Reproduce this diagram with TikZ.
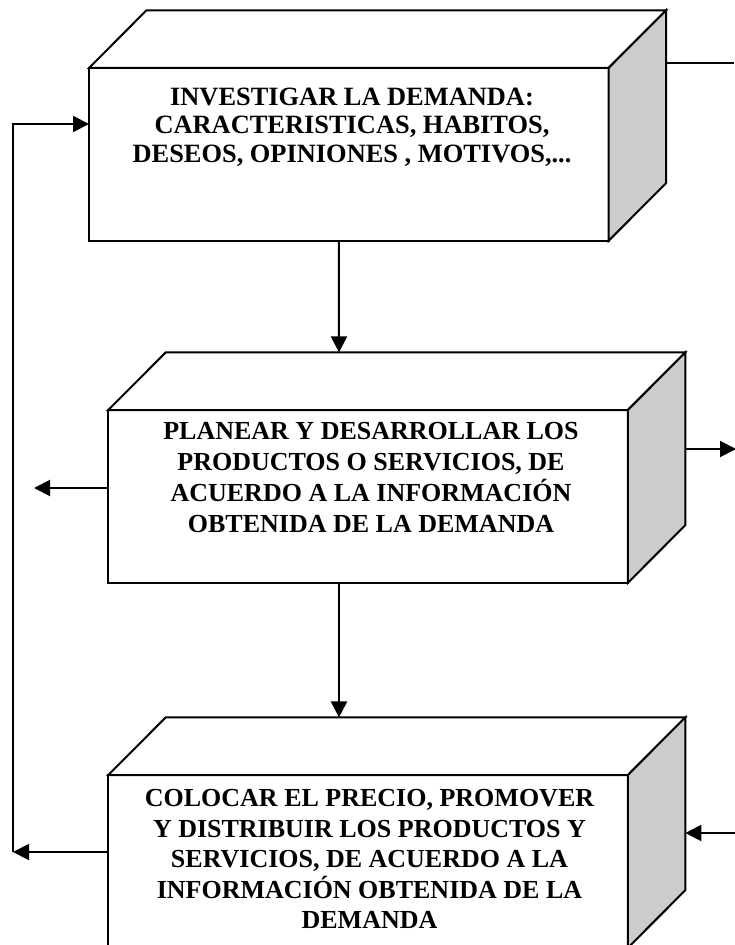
\documentclass[tikz,border=0pt]{standalone}
\usepackage{fontspec}
\setmainfont{Liberation Serif}
\usetikzlibrary{arrows.meta,positioning,calc}
\definecolor{sidegray}{RGB}{204,204,204}

\begin{document}
\begin{tikzpicture}[x=0.5pt,y=-0.5pt,
    frontface/.style={draw,line width=1pt,fill=white,minimum width=259.8pt,minimum height=86.4pt,inner sep=0pt,outer sep=0pt},
    topface/.style={draw,line width=1pt,fill=white},
    sideface/.style={draw,line width=1pt,fill=sidegray},
    boxtext/.style={font=\bfseries\fontsize{13}{15.5}\selectfont,align=center},
    arr/.style={line width=1pt,-{Triangle[length=8pt,width=8pt]}}]
    \useasboundingbox (0,0) rectangle (734,945);

    % Box 1: investigar la demanda
    \node[frontface] (f1) at (348.8,154.4) {};
    \draw[topface] (f1.north west) -- ++(57.5,-57.7) -- ($(f1.north east)+(57.5,-57.7)$) -- (f1.north east) -- cycle;
    \draw[sideface] (f1.north east) -- ++(57.5,-57.7) -- ($(f1.south east)+(57.5,-57.7)$) -- (f1.south east) -- cycle;
    \coordinate (s1) at ($(f1.east)+(57.5,0)$);
    \node[boxtext,font=\bfseries\fontsize{13.2}{14.25}\selectfont] (t1) at (352,127)
        {INVESTIGAR LA DEMANDA:\\CARACTERISTICAS, HABITOS,\\DESEOS, OPINIONES , MOTIVOS,...};

    % Box 2: planear y desarrollar
    \node[frontface] (f2) at (368,496.5) {};
    \draw[topface] (f2.north west) -- ++(57.5,-57.7) -- ($(f2.north east)+(57.5,-57.7)$) -- (f2.north east) -- cycle;
    \draw[sideface] (f2.north east) -- ++(57.5,-57.7) -- ($(f2.south east)+(57.5,-57.7)$) -- (f2.south east) -- cycle;
    \coordinate (s2) at ($(f2.east)+(57.5,0)$);
    \node[boxtext] (t2) at (371,478)
        {PLANEAR Y DESARROLLAR LOS\\PRODUCTOS O SERVICIOS, DE\\ACUERDO A LA INFORMACIÓN\\OBTENIDA DE LA DEMANDA};

    % Box 3: colocar el precio
    \node[frontface] (f3) at (368,861.5) {};
    \draw[topface] (f3.north west) -- ++(57.5,-57.7) -- ($(f3.north east)+(57.5,-57.7)$) -- (f3.north east) -- cycle;
    \draw[sideface] (f3.north east) -- ++(57.5,-57.7) -- ($(f3.south east)+(57.5,-57.7)$) -- (f3.south east) -- cycle;
    \coordinate (s3) at ($(f3.east)+(57.5,0)$);
    \node[boxtext,font=\bfseries\fontsize{13}{15.25}\selectfont] (t3) at (369.5,859)
        {COLOCAR EL PRECIO, PROMOVER\\Y DISTRIBUIR LOS PRODUCTOS Y\\SERVICIOS, DE ACUERDO A LA\\INFORMACIÓN OBTENIDA DE LA\\DEMANDA};

    % Flow down
    \draw[arr] ($(f1.south)+(-10,0)$) -- ($(f2.north)+(-29,-57.7)$);
    \draw[arr] ($(f2.south)+(-29,0)$) -- ($(f3.north)+(-29,-57.7)$);

    % Feedback loop on the left
    \coordinate (c1) at (13,852);
    \coordinate (in1) at ($(f1.north west)+(0,56)$);
    \draw[arr] (f3.west |- c1) -- (c1);
    \draw[arr] (c1) |- (in1);
    \coordinate (o2) at (34,488);
    \draw[arr] (f2.west |- o2) -- (o2);

    % Lines on the right
    \coordinate (o1) at (734,63);
    \draw[line width=1pt] (o1 -| s1) -- (o1);
    \coordinate (o3) at (736,449);
    \draw[arr] (o3 -| s2) -- (o3);
    \coordinate (i3) at (736,833);
    \draw[arr] (i3) -- (i3 -| s3);
\end{tikzpicture}
\end{document}
